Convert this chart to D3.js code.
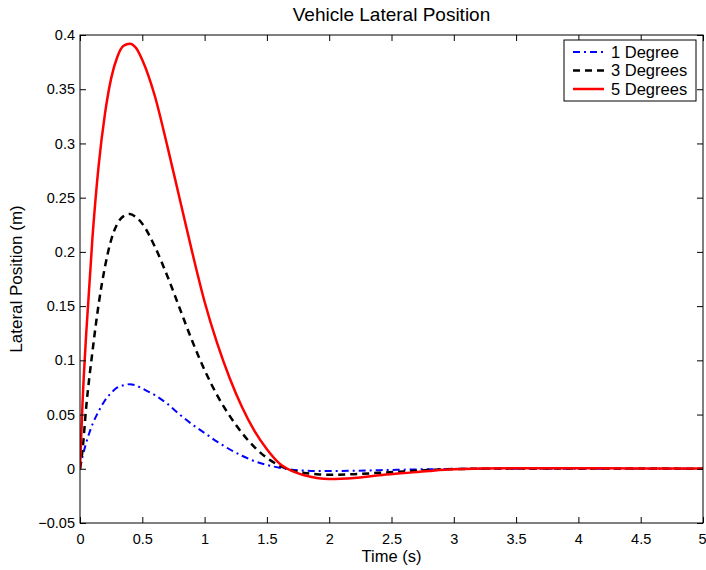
<!DOCTYPE html>
<html>
<head>
<meta charset="utf-8">
<script src="https://cdn.jsdelivr.net/npm/d3@7"></script>
<style>
  body { margin: 0; background: #fff; }
  text { font-family: "Liberation Sans", Arial, sans-serif; }
</style>
</head>
<body>
<div id="chart"></div>
<script>
// time samples (s)
var time = [0, 0.02, 0.05, 0.1, 0.15, 0.2, 0.25, 0.3, 0.35, 0.4, 0.45, 0.5, 0.6, 0.7, 0.8, 0.9, 1.0,
  1.1, 1.2, 1.3, 1.4, 1.5, 1.6, 1.7, 1.8, 1.9, 2.0, 2.2, 2.4, 2.6, 2.8, 3.0, 3.5, 4.0, 4.5, 5.0];

// lateral position (m) for each steering input
var deg1 = [0, 0.011, 0.024, 0.041, 0.053, 0.063, 0.070, 0.075, 0.077, 0.078, 0.0768, 0.074, 0.068, 0.060, 0.050, 0.041, 0.033,
  0.025, 0.018, 0.012, 0.007, 0.0035, 0.001, -0.0008, -0.0016, -0.002, -0.002, -0.0018, -0.0013, -0.0008, -0.0004, -0.0001, 0.0001, 0.0001, 0.0001, 0.0001];
var deg3 = [0, 0.017, 0.057, 0.108, 0.152, 0.186, 0.211, 0.226, 0.233, 0.235, 0.232, 0.226, 0.205, 0.178, 0.148, 0.118, 0.091,
  0.068, 0.049, 0.033, 0.020, 0.010, 0.003, -0.0015, -0.0038, -0.005, -0.0055, -0.005, -0.0037, -0.0024, -0.0012, -0.0003, 0.0003, 0.0003, 0.0002, 0.0001];
var deg5 = [0, 0.060, 0.125, 0.213, 0.280, 0.327, 0.360, 0.380, 0.390, 0.392, 0.388, 0.377, 0.344, 0.298, 0.249, 0.200, 0.154,
  0.116, 0.084, 0.057, 0.035, 0.018, 0.005, -0.002, -0.006, -0.0085, -0.0095, -0.0085, -0.006, -0.004, -0.002, -0.0005, 0.0005, 0.0005, 0.0003, 0.0002];

var seriesNames = ["1 Degree", "3 Degrees", "5 Degrees"];
var xTicks = [0, 0.5, 1, 1.5, 2, 2.5, 3, 3.5, 4, 4.5, 5];
var yTicks = [-0.05, 0, 0.05, 0.1, 0.15, 0.2, 0.25, 0.3, 0.35, 0.4];

var width = 706;
var height = 570;
var margin = { top: 35, right: 3, bottom: 47, left: 80 };
var innerWidth = width - margin.left - margin.right;
var innerHeight = height - margin.top - margin.bottom;

var svg = d3.select("#chart")
  .append("svg")
  .attr("width", width)
  .attr("height", height);

var g = svg.append("g")
  .attr("transform", "translate(" + margin.left + "," + margin.top + ")");

var x = d3.scaleLinear().domain([0, 5]).range([0, innerWidth]);
var y = d3.scaleLinear().domain([-0.05, 0.4]).range([innerHeight, 0]);

function fmt(v) {
  return d3.format("")(+v.toFixed(2)).replace("-", "\u2212");
}

var styles = [
  { color: "#0000ff", width: 2, dash: "7,4,2,4" },
  { color: "#000000", width: 2.5, dash: "7,5" },
  { color: "#ff0000", width: 2.5, dash: null }
];
var allSeries = [deg1, deg3, deg5];

svg.append("clipPath").attr("id", "clip")
  .append("rect").attr("width", innerWidth).attr("height", innerHeight);

var line = d3.line()
  .x(function(d, i) { return x(time[i]); })
  .y(function(d) { return y(d); })
  .curve(d3.curveMonotoneX);

var plot = g.append("g").attr("clip-path", "url(#clip)");
allSeries.forEach(function(s, i) {
  plot.append("path")
    .datum(s)
    .attr("fill", "none")
    .attr("stroke", styles[i].color)
    .attr("stroke-width", styles[i].width)
    .attr("stroke-dasharray", styles[i].dash)
    .attr("d", line);
});

// axes (MATLAB style: ticks inside, on all four sides)
var axisStyle = function(sel) {
  sel.select(".domain").remove();
  sel.selectAll("line").attr("stroke", "#000");
  sel.selectAll("text").attr("fill", "#000").style("font-size", "14.5px");
};
var noText = function(sel) {
  sel.selectAll("text").remove();
};

var xAxisGroup = g.append("g")
  .attr("transform", "translate(0," + innerHeight + ")")
  .call(d3.axisBottom(x).tickValues(xTicks).tickSize(-6).tickPadding(11).tickFormat(fmt))
  .call(axisStyle);
// last label sits right at the window edge
xAxisGroup.selectAll("text").filter(function(d) { return d === 5; })
  .attr("dx", "-1px");

g.append("g")
  .call(d3.axisTop(x).tickValues(xTicks).tickSize(-6))
  .call(axisStyle).call(noText);
g.append("g")
  .call(d3.axisLeft(y).tickValues(yTicks).tickSize(-6).tickPadding(5).tickFormat(fmt))
  .call(axisStyle);
g.append("g")
  .attr("transform", "translate(" + innerWidth + ",0)")
  .call(d3.axisRight(y).tickValues(yTicks).tickSize(-6))
  .call(axisStyle).call(noText);

g.append("rect")
  .attr("width", innerWidth)
  .attr("height", innerHeight)
  .attr("fill", "none")
  .attr("stroke", "#000")
  .attr("stroke-width", 1);

// labels
svg.append("text")
  .attr("x", margin.left + innerWidth / 2)
  .attr("y", 21)
  .attr("text-anchor", "middle")
  .style("font-size", "19px")
  .text("Vehicle Lateral Position");

svg.append("text")
  .attr("x", margin.left + innerWidth / 2)
  .attr("y", 562)
  .attr("text-anchor", "middle")
  .style("font-size", "16.5px")
  .text("Time (s)");

svg.append("text")
  .attr("transform", "translate(22," + (margin.top + innerHeight / 2) + ") rotate(-90)")
  .attr("text-anchor", "middle")
  .style("font-size", "17px")
  .text("Lateral Position (m)");

// legend
var legend = svg.append("g").attr("transform", "translate(564,40)");
legend.append("rect")
  .attr("width", 132)
  .attr("height", 61)
  .attr("fill", "#fff")
  .attr("stroke", "#000")
  .attr("stroke-width", 1);

seriesNames.forEach(function(name, i) {
  var ly = 12 + i * 18.5;
  legend.append("line")
    .attr("x1", 9).attr("x2", 40)
    .attr("y1", ly).attr("y2", ly)
    .attr("stroke", styles[i].color)
    .attr("stroke-width", styles[i].width)
    .attr("stroke-dasharray", styles[i].dash);
  legend.append("text")
    .attr("x", 47)
    .attr("y", ly + 5.5)
    .style("font-size", "16.5px")
    .text(name);
});
</script>
</body>
</html>
